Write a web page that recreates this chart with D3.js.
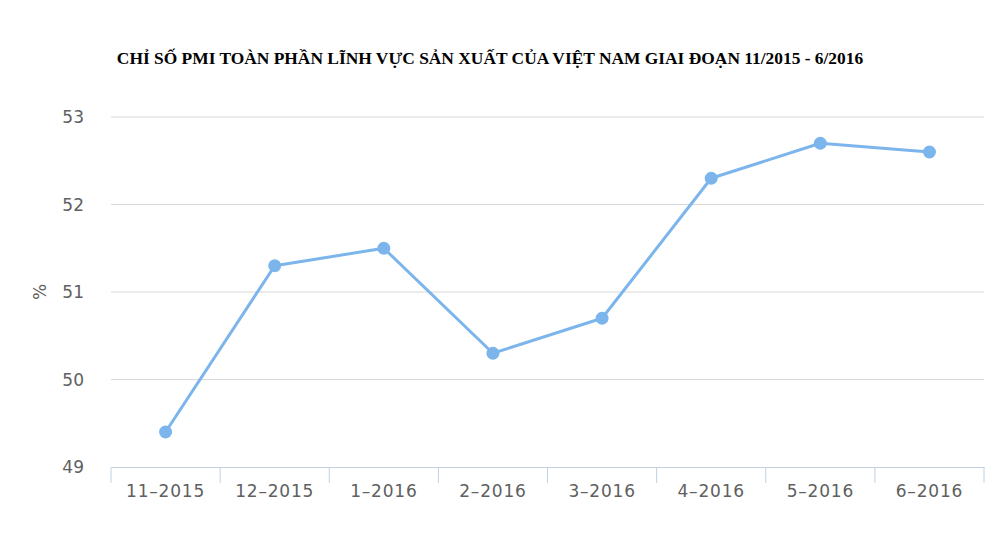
<!DOCTYPE html>
<html>
<head>
<meta charset="utf-8">
<script src="https://cdn.jsdelivr.net/npm/d3@7"></script>
<style>
  body { margin: 0; background: #fff; }
</style>
</head>
<body>
<div id="chart"></div>
<script>
// data
var months = ["11–2015", "12–2015", "1–2016", "2–2016", "3–2016", "4–2016", "5–2016", "6–2016"];
var pmi = [49.4, 51.3, 51.5, 50.3, 50.7, 52.3, 52.7, 52.6];
var yTicks = [49, 50, 51, 52, 53];

var svgWidth = 1000;
var svgHeight = 533;
var margin = {top: 117, right: 16, bottom: 66, left: 111};

var width = svgWidth - margin.left - margin.right;
var height = svgHeight - margin.top - margin.bottom;

var svg = d3.select("#chart")
            .append("svg")
            .attr("width", svgWidth)
            .attr("height", svgHeight);

svg.append("text")
   .attr("x", 490)
   .attr("y", 64)
   .attr("text-anchor", "middle")
   .style("font-family", "'Liberation Serif', 'Times New Roman', serif")
   .style("font-weight", "bold")
   .style("font-size", "17.4px")
   .style("fill", "#000")
   .text("CHỈ SỐ PMI TOÀN PHẦN LĨNH VỰC SẢN XUẤT CỦA VIỆT NAM GIAI ĐOẠN 11/2015 - 6/2016");

var g = svg.append("g")
           .attr("transform", "translate(" + margin.left + "," + margin.top + ")");

var x = d3.scaleBand()
          .domain(months)
          .range([0, width]);

var y = d3.scaleLinear()
          .domain([49, 53])
          .range([height, 0]);

//grid lines
g.selectAll(".grid")
 .data(yTicks.filter(d => d > 49))
 .enter()
 .append("line")
 .attr("x1", 0)
 .attr("x2", width)
 .attr("y1", d => y(d))
 .attr("y2", d => y(d))
 .attr("stroke", "#d8d8d8")
 .attr("stroke-width", 1);

//y labels
g.selectAll(".ylab")
 .data(yTicks)
 .enter()
 .append("text")
 .attr("x", -27)
 .attr("y", d => y(d) + 6)
 .attr("text-anchor", "end")
 .style("font-family", "'DejaVu Sans', sans-serif")
 .style("font-size", "17px")
 .style("fill", "#606060")
 .text(d => d);

svg.append("text")
   .attr("transform", "translate(46," + (margin.top + y(51)) + ") rotate(-90)")
   .attr("text-anchor", "middle")
   .style("font-family", "'DejaVu Sans', sans-serif")
   .style("font-size", "17px")
   .style("fill", "#606060")
   .text("%");

//x axis
var bottomAxis = d3.axisBottom(x)
                   .tickSize(0)
                   .tickPadding(18);

var xAxis = g.append("g")
             .attr("transform", `translate(0, ${height})`)
             .call(bottomAxis);

xAxis.select(".domain").attr("stroke", "#c0d0e0");
xAxis.selectAll("text")
     .style("font-family", "'DejaVu Sans', sans-serif")
     .style("font-size", "17px")
     .style("letter-spacing", "0.8px")
     .style("fill", "#606060");

//ticks between categories
var edges = months.map(d => x(d)).concat([width]);
xAxis.selectAll(".sep")
     .data(edges)
     .enter()
     .append("line")
     .attr("x1", d => d)
     .attr("x2", d => d)
     .attr("y1", 0)
     .attr("y2", 16)
     .attr("stroke", "#c0d0e0")
     .attr("stroke-width", 1);

//line + markers
var line = d3.line()
             .x((d, i) => x(months[i]) + x.bandwidth() / 2)
             .y(d => y(d));

g.append("path")
 .datum(pmi)
 .attr("d", line)
 .attr("fill", "none")
 .attr("stroke", "#7cb5ec")
 .attr("stroke-width", 3)
 .attr("stroke-linejoin", "round");

g.selectAll("circle")
 .data(pmi)
 .enter()
 .append("circle")
 .attr("cx", (d, i) => x(months[i]) + x.bandwidth() / 2)
 .attr("cy", d => y(d))
 .attr("r", 6.5)
 .attr("fill", "#7cb5ec");
</script>
</body>
</html>
